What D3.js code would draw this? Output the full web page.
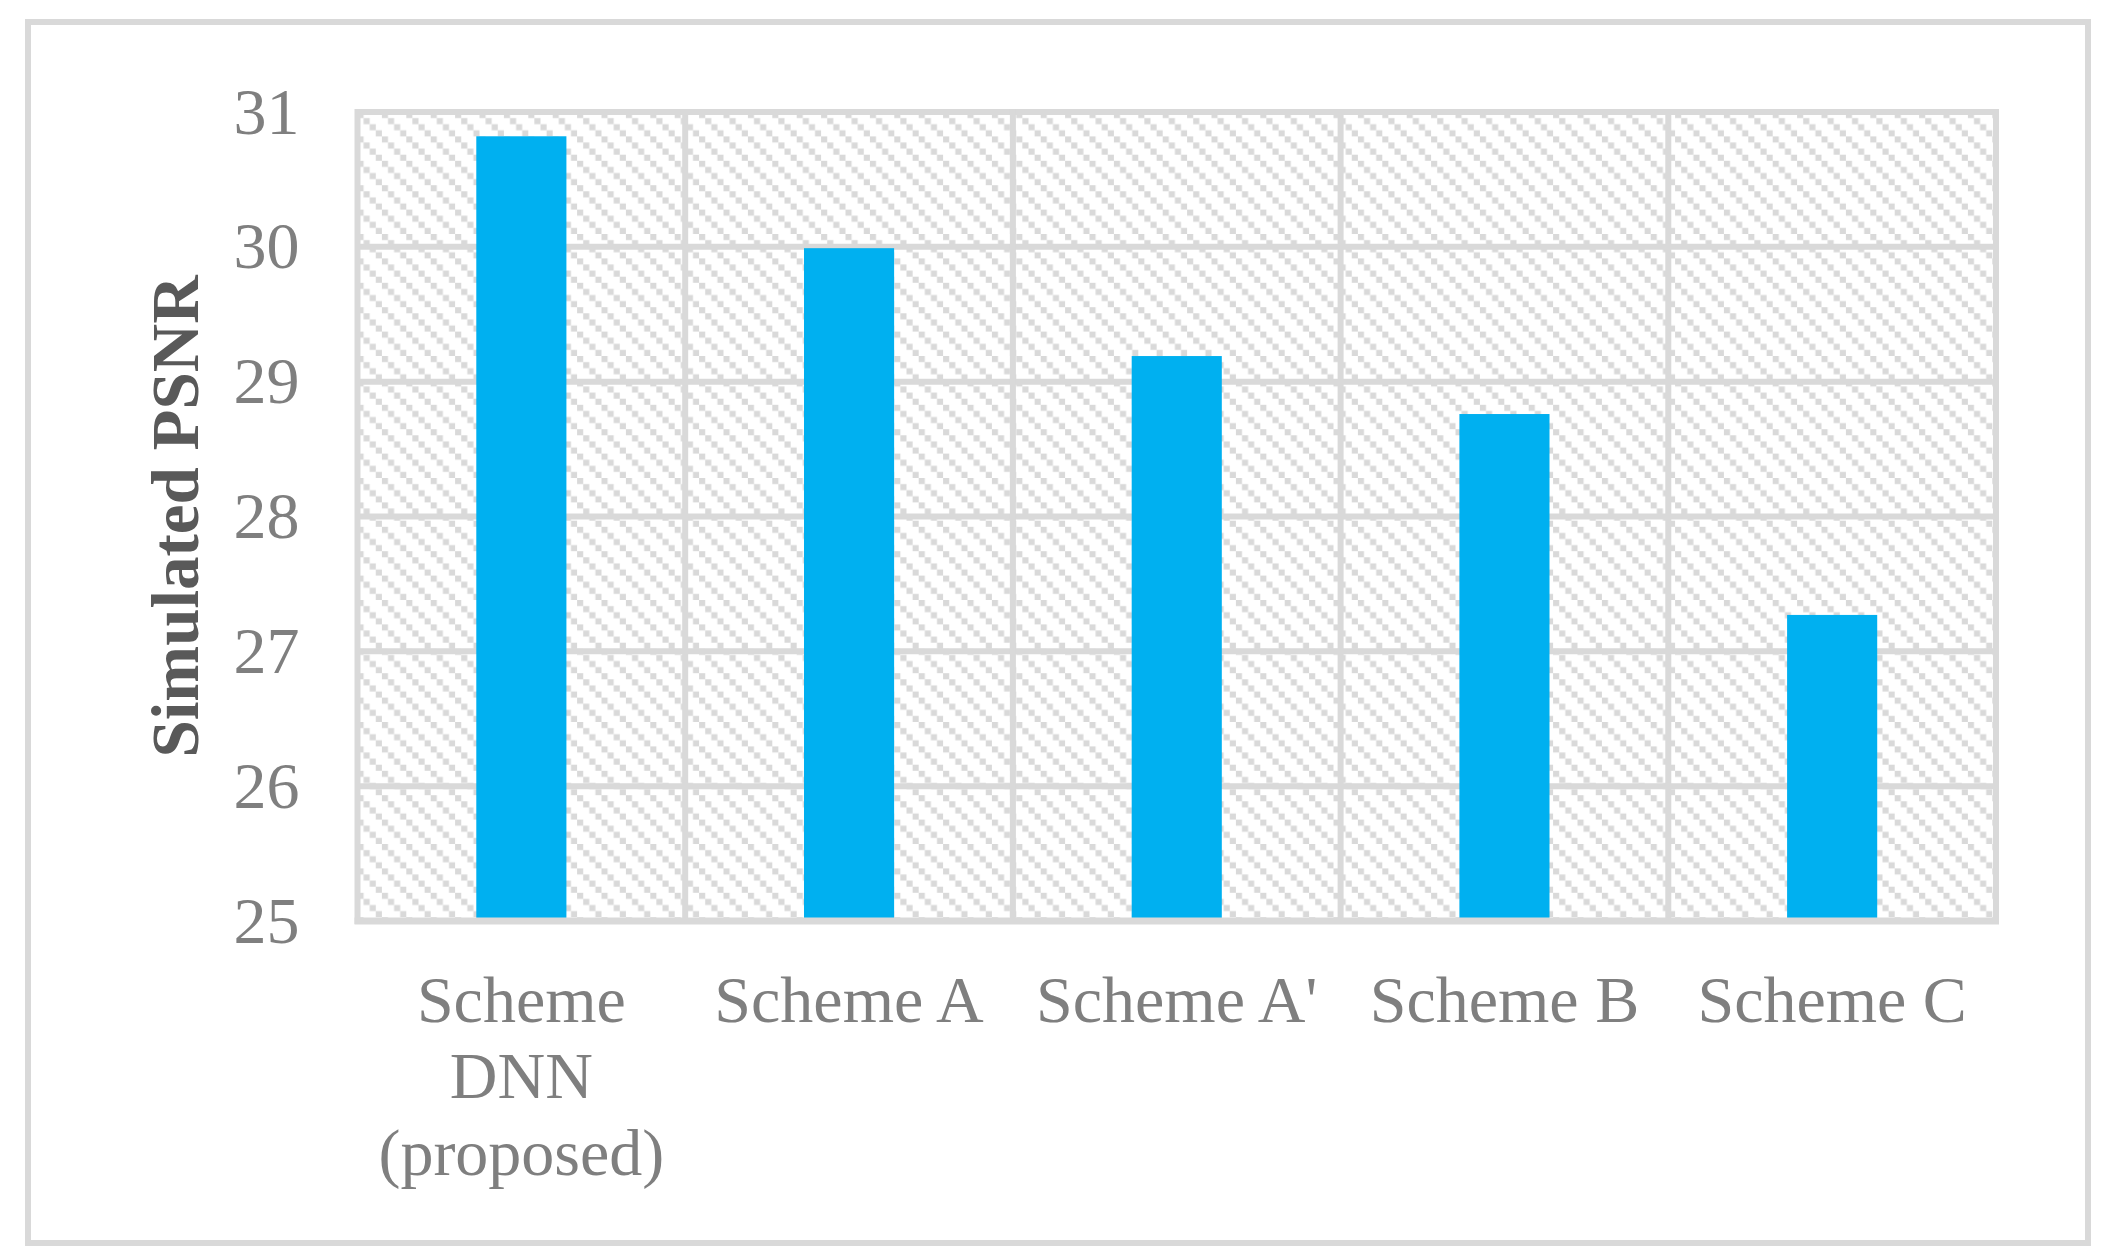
<!DOCTYPE html>
<html>
<head>
<meta charset="utf-8">
<script src="https://cdn.jsdelivr.net/npm/d3@7"></script>
<style>
  html, body { margin: 0; padding: 0; background: #ffffff; }
  svg { display: block; }
</style>
</head>
<body>
<script>
// ---- data ----
const categories = ["Scheme DNN (proposed)", "Scheme A", "Scheme A'", "Scheme B", "Scheme C"];
const psnrValues = [30.82, 29.99, 29.19, 28.76, 27.27];
const yTicks = [25, 26, 27, 28, 29, 30, 31];
const yTitle = "Simulated PSNR";

// ---- layout ----
const W = 2103, H = 1253;
const margin = { left: 357.5, right: W - 1996, top: 112, bottom: H - 921 };
const gridColor = "#d9d9d9";
const barColor = "#00b0f0";
const labelColor = "#7f7f7f";
const titleColor = "#595959";
const fontFam = "'Liberation Serif', 'Times New Roman', serif";

const svg = d3.select("body").append("svg")
  .attr("width", W).attr("height", H);

// hatch pattern
const cell = 6.1;
const defs = svg.append("defs");
const pat = defs.append("pattern")
  .attr("id", "hatch")
  .attr("patternUnits", "userSpaceOnUse")
  .attr("width", cell * 4).attr("height", cell * 4)
  .attr("x", margin.left).attr("y", margin.top);
pat.append("rect").attr("width", cell * 4).attr("height", cell * 4).attr("fill", "#ffffff");
d3.range(4).forEach(i => {
  pat.append("rect").attr("x", i * cell).attr("y", i * cell)
    .attr("width", cell).attr("height", cell).attr("fill", gridColor);
});

// outer frame
svg.append("rect")
  .attr("x", 28).attr("y", 22).attr("width", 2060).attr("height", 1221)
  .attr("fill", "none").attr("stroke", gridColor).attr("stroke-width", 6);

const x = d3.scaleBand().domain(categories)
  .range([margin.left, W - margin.right]).paddingInner(0).paddingOuter(0);
const y = d3.scaleLinear().domain([25, 31]).range([H - margin.bottom, margin.top]);

// plot background
svg.append("rect")
  .attr("x", margin.left).attr("y", margin.top)
  .attr("width", W - margin.right - margin.left)
  .attr("height", H - margin.bottom - margin.top)
  .attr("fill", "url(#hatch)");

// horizontal gridlines
svg.append("g").selectAll("line").data(yTicks).join("line")
  .attr("x1", margin.left).attr("x2", W - margin.right)
  .attr("y1", d => y(d)).attr("y2", d => y(d))
  .attr("stroke", gridColor).attr("stroke-width", 6);

// vertical gridlines (band boundaries)
const bounds = categories.map(c => x(c)).concat([x(categories[categories.length - 1]) + x.bandwidth()]);
svg.append("g").selectAll("line").data(bounds).join("line")
  .attr("x1", d => d).attr("x2", d => d)
  .attr("y1", margin.top - 3).attr("y2", H - margin.bottom + 3)
  .attr("stroke", gridColor).attr("stroke-width", 6);

// bars
const barW = x.bandwidth() * 0.275;
svg.append("g").selectAll("rect").data(psnrValues).join("rect")
  .attr("x", (d, i) => x(categories[i]) + x.bandwidth() / 2 - barW / 2)
  .attr("width", barW)
  .attr("y", d => y(d))
  .attr("height", d => y(25) - y(d) - 3)
  .attr("fill", barColor);

// bottom axis line (drawn over bars)
svg.append("line")
  .attr("x1", margin.left - 3).attr("x2", W - margin.right + 3)
  .attr("y1", y(25)).attr("y2", y(25))
  .attr("stroke", gridColor).attr("stroke-width", 7);

// y axis via d3
const yAxis = d3.axisLeft(y).tickValues(yTicks).tickSize(0).tickPadding(58)
  .tickFormat(d3.format("d"));
const gy = svg.append("g").attr("transform", `translate(${margin.left},0)`).call(yAxis);
gy.select(".domain").remove();
gy.selectAll("text")
  .attr("fill", labelColor)
  .style("font-family", fontFam)
  .style("font-size", "66px");

// x axis via d3
const xAxis = d3.axisBottom(x).tickSize(0).tickPadding(0);
const gx = svg.append("g").attr("transform", `translate(0,${H - margin.bottom})`).call(xAxis);
gx.select(".domain").remove();
gx.selectAll("text")
  .attr("fill", labelColor)
  .style("font-family", fontFam)
  .style("font-size", "66px")
  .attr("dy", null)
  .each(function (d) {
    const t = d3.select(this);
    const words = d.split(" ");
    t.text(null);
    const lineH = 76.5;
    let line = [];
    let lineNo = 0;
    let tspan = t.append("tspan").attr("x", 0).attr("y", 100.5);
    words.forEach(w => {
      line.push(w);
      tspan.text(line.join(" "));
      if (tspan.node().getComputedTextLength() > x.bandwidth() - 10 && line.length > 1) {
        line.pop();
        tspan.text(line.join(" "));
        line = [w];
        lineNo++;
        tspan = t.append("tspan").attr("x", 0).attr("y", 100.5 + lineNo * lineH).text(w);
      }
    });
  });

// y title
svg.append("text")
  .attr("transform", `translate(198,${(margin.top + H - margin.bottom) / 2}) rotate(-90)`)
  .attr("text-anchor", "middle")
  .attr("fill", titleColor)
  .style("font-family", fontFam)
  .style("font-size", "67px")
  .style("font-weight", "bold")
  .text(yTitle);
</script>
</body>
</html>
